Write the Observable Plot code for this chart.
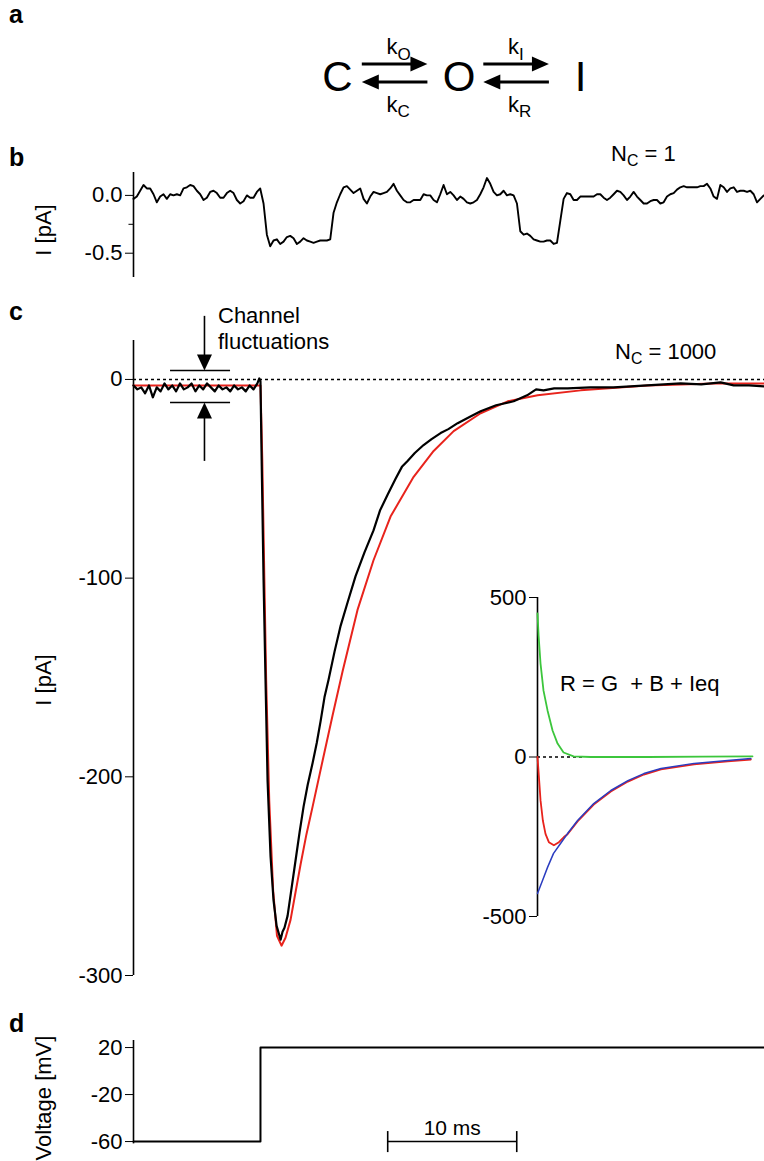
<!DOCTYPE html>
<html><head><meta charset="utf-8">
<script src="https://cdn.jsdelivr.net/npm/d3@7"></script>
<script src="https://cdn.jsdelivr.net/npm/@observablehq/plot@0.6"></script>
<style>
body{margin:0;background:#fff;font-family:"Liberation Sans",Arial,Helvetica,sans-serif;color:#000;}
#fig{position:relative;width:764px;height:1161px;overflow:hidden;background:#fff;}
.t{position:absolute;white-space:nowrap;font-size:22px;line-height:1;}
.p{position:absolute;font-weight:bold;font-size:25px;line-height:1;}
.rot{position:absolute;white-space:nowrap;font-size:22px;line-height:1;transform:translate(-50%,-50%) rotate(-90deg);}
sub{font-size:0.72em;vertical-align:-0.3em;line-height:0;}
</style></head><body><div id="fig"></div>
<script>
// ---------------- Panel a: kinetic scheme ----------------
const schemeStates = ["C", "O", "I"];
const schemeForward = ["O", "I"];   // subscripts of k above forward arrows
const schemeBackward = ["C", "R"];  // subscripts of k below backward arrows

// ---------------- Panel b: single channel (N_C = 1) ----------------
const bDt = 0.2584; // ms per sample
const bCurrent = [
-0.03,-0.01,0.04,0.09,0.06,0.06,0.01,-0.06,-0.01,0.01,
-0.03,0.01,0,0.01,0,0.06,0.07,0.09,0.08,0.04,
0.01,-0.04,-0.02,0.03,0.04,0.02,-0.02,-0.02,0.02,0.04,
0.02,-0.04,-0.07,-0.05,0,-0.02,-0.02,0.03,0.06,-0.07,
-0.34,-0.44,-0.39,-0.38,-0.42,-0.40,-0.36,-0.35,-0.37,-0.42,
-0.40,-0.37,-0.39,-0.40,-0.41,-0.40,-0.39,-0.39,-0.39,-0.38,
-0.15,-0.06,0.01,0.07,0.08,0.05,0.02,0.04,0.06,-0.03,
-0.07,-0.01,0.03,0.02,0.01,0.02,0.03,0.06,0.10,0.04,
0,-0.04,-0.06,-0.06,-0.04,-0.04,-0.04,0.01,0,0,
-0.04,-0.06,
0.01,0.09,0.01,0.03,0,-0.04,-0.01,-0.03,-0.06,-0.07,
-0.06,-0.04,0.01,0.07,0.15,0.10,0.03,0,0.01,0.04,
0,0.01,0,-0.07,-0.31,-0.34,-0.33,-0.35,-0.38,-0.39,
-0.40,-0.40,-0.39,-0.39,-0.42,-0.41,-0.22,-0.03,0.02,0.01,
-0.04,-0.04,-0.01,-0.01,-0.01,-0.01,-0.01,0.01,0.01,-0.02,
-0.04,-0.02,0.01,0.04,0.03,0,-0.04,-0.01,0.03,-0.01,
-0.04,-0.07,-0.07,-0.05,-0.04,-0.04,-0.07,-0.06,-0.01,0.01,
0.02,0.05,0.07,0.08,0.07,0.07,0.07,0.07,0.08,0.08,
0.10,0.06,-0.01,-0.03,0.09,0.07,0.03,0.06,0.07,0.03,
0.04,0.04,0.03,0.04,0.01,-0.06,-0.03,0
];
const bTicks = [0, -0.5];
const bMinorTicks = [-0.25];

// ---------------- Panel c: macroscopic current (N_C = 1000) ----------------
const tEnd = 48.9;
const cTraceT = [0,0.3,0.6,0.9,1.2,1.5,1.8,2.1,2.4,2.7,3.0,3.3,3.6,3.9,4.2,4.5,4.8,5.1,5.4,5.7,6.0,6.3,6.6,6.9,7.2,7.5,7.8,8.1,8.4,8.7,9.0,9.3,9.6,9.75,9.84,
9.92,10.08,10.23,10.39,10.62,10.85,11.09,11.40,11.55,11.70,11.94,12.25,12.56,12.87,13.18,13.50,13.88,14.20,14.50,14.80,
15.12,15.58,16.05,16.60,17.21,17.90,18.60,19.10,19.69,20.31,20.80,21.24,21.80,22.48,23.10,23.80,24.40,25.12,26.00,26.90,
28.10,29.46,30.50,31.20,31.78,32.60,33.64,35.40,37.21,39.80,42.40,44.00,45.50,46.51,47.70,48.90];
const cTraceI = [-3,-5,-4,-7,-3,-9,-4,-6,-2,-5,-3,-6,-2,-5,-4,-2,-6,-3,-5,-2,-4,-6,-3,-5,-4,-6,-3,-5,-4,-6,-3,-5,-2,0.5,-1,
-36,-101,-151,-202,-240,-262,-275,-282,-278,-276,-270,-256,-242,-228,-215,-204,-193,-183,-172,-160,
-151,-137,-124,-112,-99,-87,-76,-66,-58,-50,-44,-41,-37,-33,-30,-27,-25,-22,-19,-16,
-13,-11,-8,-5,-5.5,-4.5,-4.5,-4,-4,-3,-2,-2.5,-1.5,-3,-3,-3.5];
const cFitT = [0,9.84,9.98,10.14,10.28,10.52,10.82,11.12,11.47,11.78,12.17,12.56,12.95,13.40,13.88,14.65,15.43,16.20,17.36,18.60,19.92,21.71,23.26,24.81,26.90,29.00,31.32,34.65,39.84,44.96,48.90];
const cFitI = [-3,-3,-40,-100,-151,-212,-257,-280,-285,-281,-272,-258,-244,-229,-215,-192,-169,-147,-116,-91,-69,-49,-36,-26,-17,-11,-8,-5.5,-3,-2,-2];
const cTicks = [0, -100, -200, -300];
// "Channel fluctuations" annotation (ms, pA)
const fluctSpan = [2.87, 7.52];
const fluctBars = [4.5, -11.6];
const fluctArrows = [
  {t: 5.5, from: 32, tip: 4.5, rot: 180},
  {t: 5.5, from: -41, tip: -11.6, rot: 0}
];

// ---------------- Inset: R = G + B + Ieq ----------------
const insetGreenT = [0,0.2,0.55,1.09,1.82,2.73,3.64,4.73,6.55,9.6,20,30,39];
const insetGreenV = [450,380,293,208,146,83,42,14,2,0,0,1,2];
const insetRedT = [0,0.3,0.55,0.97,1.45,2.06,2.97,3.88,4.79,5.45,7.27,10.2,13.3,16.4,19.3,22.4,28.4,34.5,38.7];
const insetRedV = [0,-73,-136,-199,-241,-267,-277,-267,-251,-242,-202,-149,-108,-77,-55,-39,-23,-14,-8];
const insetBlueT = [0,0.91,1.82,2.91,4.18,5.45,7.27,10.2,13.3,16.4,19.3,22.4,28.4,34.5,38.7];
const insetBlueV = [-428,-387,-346,-302,-271,-240,-199,-146,-105,-74,-52,-36,-20,-11,-5];
const insetTicks = [500, 0, -500];
const insetZeroEnd = 8.4;

// ---------------- Panel d: voltage protocol ----------------
const dTime = [0, 9.84, 48.9];
const dVolt = [-60, 20, 20];
const dTicks = [20, -20, -60];
const scaleBar = [19.7, 29.7]; // 10 ms

// ======================================================
const fig = document.getElementById("fig");
const FONT = "'Liberation Sans', Arial, Helvetica, sans-serif";
const RED = "#e8231c", GREEN = "#3cc63c", BLUE = "#2a3cc0";
const baseStyle = {fontFamily: FONT, fontSize: "22px", color: "#000", background: "transparent", overflow: "visible"};
const pairs = (t, v) => t.map((x, i) => ({t: x, v: v[i]}));
const headSymbol = (w, h) => ({draw(ctx) { ctx.moveTo(0, 0); ctx.lineTo(w, h); ctx.lineTo(-w, h); ctx.closePath(); }});
const head = headSymbol(7.5, 17);
function place(svg, left, top) {
  svg.style.position = "absolute"; svg.style.left = left + "px"; svg.style.top = top + "px";
  fig.appendChild(svg);
}
function html(cls, content, left, top, extra) {
  const el = document.createElement("div");
  el.className = cls; el.innerHTML = content;
  el.style.left = left + "px"; el.style.top = top + "px";
  if (extra) Object.assign(el.style, extra);
  fig.appendChild(el);
}

// Panel a
place(Plot.plot({
  width: 764, height: 140, marginLeft: 337, marginRight: 184, marginTop: 9.5, marginBottom: 4.5,
  style: baseStyle,
  x: {domain: [0, 2], axis: null},
  y: {domain: [-7, 7], axis: null},
  marks: [
    Plot.text(schemeStates, {x: (d, i) => i, y: -0.45, text: d => d, fontSize: 42}),
    Plot.link(schemeForward, {x1: (d, i) => i + 0.20, x2: (d, i) => i + 0.68, y1: 1, y2: 1, strokeWidth: 2.8, stroke: "#000"}),
    Plot.dot(schemeForward, {x: (d, i) => i + 0.74, y: 1, symbol: head, rotate: 90, fill: "#000", stroke: null}),
    Plot.link(schemeBackward, {x1: (d, i) => i + 0.26, x2: (d, i) => i + 0.74, y1: -1, y2: -1, strokeWidth: 2.8, stroke: "#000"}),
    Plot.dot(schemeBackward, {x: (d, i) => i + 0.20, y: -1, symbol: head, rotate: -90, fill: "#000", stroke: null}),
    Plot.text(schemeForward, {x: (d, i) => i + 0.47, y: 2.85, text: () => "k", textAnchor: "end", dx: 3, fontSize: 22}),
    Plot.text(schemeForward, {x: (d, i) => i + 0.47, y: 2.1, text: d => d, textAnchor: "start", dx: 3, fontSize: 17}),
    Plot.text(schemeBackward, {x: (d, i) => i + 0.47, y: -3.5, text: () => "k", textAnchor: "end", dx: 3, fontSize: 22}),
    Plot.text(schemeBackward, {x: (d, i) => i + 0.47, y: -4.25, text: d => d, textAnchor: "start", dx: 3, fontSize: 17})
  ]
}), 0, 0);

// Panel b
place(Plot.plot({
  width: 764, height: 150, marginLeft: 133, marginRight: 0, marginTop: 32, marginBottom: 13,
  style: baseStyle,
  x: {domain: [0, tEnd], axis: null},
  y: {domain: [-0.71, 0.198], ticks: bTicks, tickSize: 8, tickPadding: 3, tickFormat: d => d.toFixed(1), label: null},
  marks: [
    Plot.ruleX([0], {strokeWidth: 1.6}),
    Plot.ruleY(bMinorTicks, {x1: -0.35, x2: 0, strokeWidth: 1}),
    Plot.line(bCurrent, {x: (d, i) => i * bDt, y: d => d, stroke: "#000", strokeWidth: 1.9})
  ]
}), 0, 140);

// Panel c
place(Plot.plot({
  width: 764, height: 720, marginLeft: 133, marginRight: 0, marginTop: 50, marginBottom: 35,
  style: baseStyle,
  x: {domain: [0, tEnd], axis: null},
  y: {domain: [-300, 19.6], ticks: cTicks, tickSize: 8, tickPadding: 3, tickFormat: d => String(d), label: null},
  marks: [
    Plot.ruleY([0], {strokeDasharray: "3 3", strokeWidth: 1.6}),
    Plot.ruleX([0], {strokeWidth: 1.6}),
    Plot.line(pairs(cFitT, cFitI), {x: "t", y: "v", stroke: RED, strokeWidth: 2}),
    Plot.line(pairs(cTraceT, cTraceI), {x: "t", y: "v", stroke: "#000", strokeWidth: 2.2}),
    Plot.ruleY(fluctBars, {x1: fluctSpan[0], x2: fluctSpan[1], strokeWidth: 1.6}),
    Plot.link(fluctArrows, {x1: "t", x2: "t", y1: "from", y2: d => d.tip + (d.rot ? 5 : -5), strokeWidth: 1.6}),
    Plot.dot(fluctArrows, {x: "t", y: "tip", symbol: headSymbol(7.5, 16), rotate: "rot", fill: "#000", stroke: null})
  ]
}), 0, 290);

// Inset
place(Plot.plot({
  width: 304, height: 350, marginLeft: 77, marginRight: 12, marginTop: 17, marginBottom: 14,
  style: baseStyle,
  x: {domain: [0, 39], axis: null},
  y: {domain: [-500, 500], ticks: insetTicks, tickSize: 8, tickPadding: 3, tickFormat: d => String(d), label: null},
  marks: [
    Plot.ruleX([0], {strokeWidth: 1.6}),
    Plot.ruleY([0], {x1: 0, x2: insetZeroEnd, strokeDasharray: "3 3", strokeWidth: 1.4}),
    Plot.line(pairs(insetRedT, insetRedV), {x: "t", y: "v", stroke: RED, strokeWidth: 1.8}),
    Plot.line(pairs(insetBlueT, insetBlueV), {x: "t", y: "v", stroke: BLUE, strokeWidth: 1.5}),
    Plot.line(pairs(insetGreenT, insetGreenV), {x: "t", y: "v", stroke: GREEN, strokeWidth: 1.8})
  ]
}), 460, 580);

// Panel d
place(Plot.plot({
  width: 764, height: 151, marginLeft: 133, marginRight: 0, marginTop: 30, marginBottom: 17.6,
  style: baseStyle,
  x: {domain: [0, tEnd], axis: null},
  y: {domain: [-62, 26], ticks: dTicks, tickSize: 8, tickPadding: 3, tickFormat: d => String(d), label: null},
  marks: [
    Plot.ruleX([0], {strokeWidth: 1.6}),
    Plot.line(pairs(dTime, dVolt), {x: "t", y: "v", curve: "step-after", stroke: "#000", strokeWidth: 2}),
    Plot.ruleY([-60], {x1: scaleBar[0], x2: scaleBar[1], strokeWidth: 1.6}),
    Plot.ruleX(scaleBar, {y1: -51.5, y2: -69.4, strokeWidth: 1.6}),
    Plot.text(["10 ms"], {x: (scaleBar[0] + scaleBar[1]) / 2, y: -49, text: d => d, fontSize: 21})
  ]
}), 0, 1010);

// Text labels
html("p", "a", 9, 2);
html("p", "b", 9, 145);
html("p", "c", 9, 299);
html("p", "d", 9, 1011);
html("t", "N<sub>C</sub> = 1", 611, 143);
html("t", "N<sub>C</sub> = 1000", 615, 341);
html("t", "Channel<br>fluctuations", 218, 303, {lineHeight: "26px"});
html("t", "R = G&nbsp; + B + Ieq", 560, 673);
html("rot", "I [pA]", 44, 230);
html("rot", "I [pA]", 44, 680);
html("rot", "Voltage [mV]", 44, 1098);
</script>
</body></html>
